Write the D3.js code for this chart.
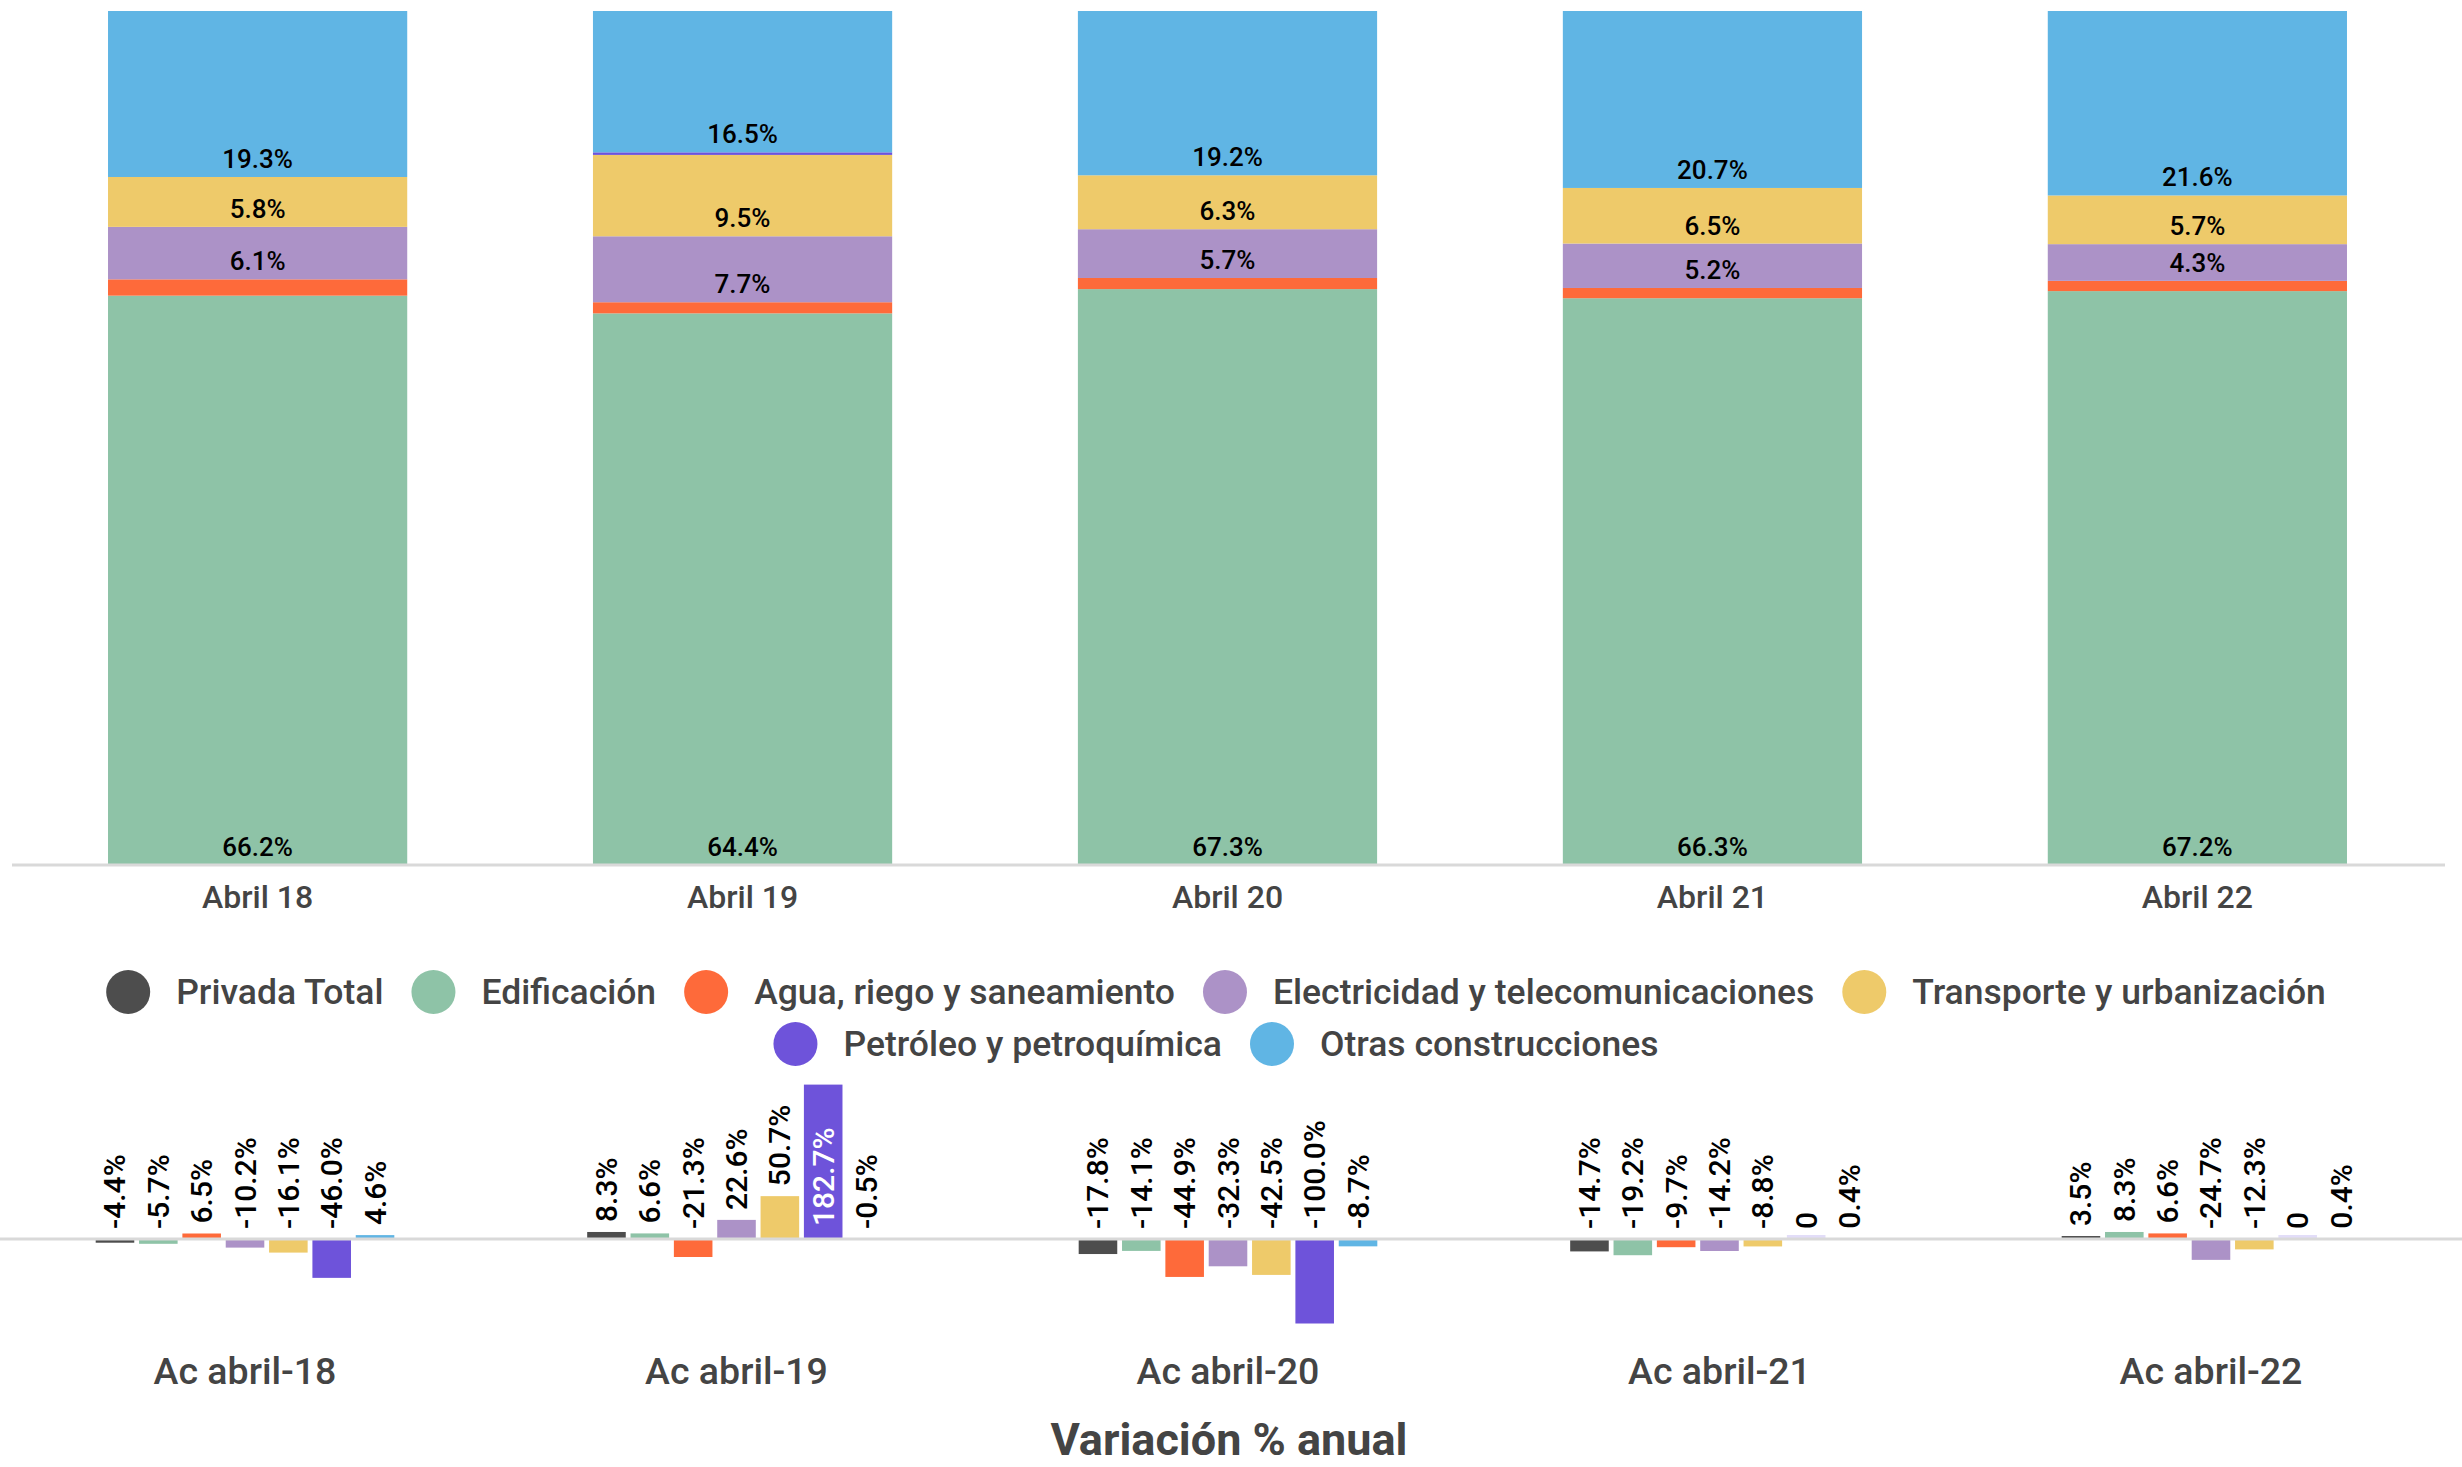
<!DOCTYPE html>
<html>
<head>
<meta charset="utf-8">
<script src="https://cdn.jsdelivr.net/npm/d3@7"></script>
<style>
html,body{margin:0;padding:0;background:#fff;}
svg{display:block;font-family:Roboto,"Noto Sans",sans-serif;}
</style>
</head>
<body>
<svg id="chart" width="2462" height="1467"></svg>
<script>
// ---------- DATA ----------
const categories = ["Abril 18", "Abril 19", "Abril 20", "Abril 21", "Abril 22"];
const seriesNames = ["Privada Total", "Edificación", "Agua, riego y saneamiento", "Electricidad y telecomunicaciones", "Transporte y urbanización", "Petróleo y petroquímica", "Otras construcciones"];
const seriesColors = ["#4d4d4d", "#8ec3a7", "#fe6a3a", "#ac92c7", "#eeca6a", "#6e53da", "#60b5e4"];

// shares (%) for the 100% stacked chart
const shareEdificacion   = [66.2, 64.4, 67.3, 66.3, 67.2];
const shareAgua          = [1.9, 1.3, 1.3, 1.2, 1.2];
const shareElectricidad  = [6.1, 7.7, 5.7, 5.2, 4.3];
const shareTransporte    = [5.8, 9.5, 6.3, 6.5, 5.7];
const sharePetroleo      = [0, 0.3, 0, 0, 0];
const shareOtras         = [19.3, 16.5, 19.2, 20.7, 21.6];

// annual variation (%)
const periods = ["Ac abril-18", "Ac abril-19", "Ac abril-20", "Ac abril-21", "Ac abril-22"];
const varPrivada       = [-4.4, 8.3, -17.8, -14.7, 3.5];
const varEdificacion   = [-5.7, 6.6, -14.1, -19.2, 8.3];
const varAgua          = [6.5, -21.3, -44.9, -9.7, 6.6];
const varElectricidad  = [-10.2, 22.6, -32.3, -14.2, -24.7];
const varTransporte    = [-16.1, 50.7, -42.5, -8.8, -12.3];
const varPetroleo      = [-46.0, 182.7, -100.0, 0, 0];
const varOtras         = [4.6, -0.5, -8.7, 0.4, 0.4];

const bottomTitle = "Variación % anual";

// ---------- SETUP ----------
const svg = d3.select("#chart");
const color = d3.scaleOrdinal(seriesNames, seriesColors);
const fmt = v => v === 0 ? "0" : v.toFixed(1) + "%";

// ---------- TOP: 100% stacked ----------
const stackKeys = seriesNames.slice(1);
const shareArrays = [shareEdificacion, shareAgua, shareElectricidad, shareTransporte, sharePetroleo, shareOtras];
const topRows = categories.map((c, i) => {
  const r = {cat: c};
  stackKeys.forEach((k, j) => r[k] = shareArrays[j][i]);
  return r;
});
const stacked = d3.stack().keys(stackKeys).offset(d3.stackOffsetExpand)(topRows);

const xTop = d3.scaleBand().domain(categories).range([12, 2443]).paddingInner(0.383).paddingOuter(0.198);
const yTop = d3.scaleLinear().domain([0, 1]).range([865, 11]);

const gTop = svg.append("g");
gTop.selectAll("g.layer").data(stacked).join("g")
  .attr("class", "layer")
  .attr("fill", d => color(d.key))
  .selectAll("rect").data(d => d).join("rect")
  .attr("x", d => xTop(d.data.cat))
  .attr("width", xTop.bandwidth())
  .attr("y", d => yTop(d[1]))
  .attr("height", d => Math.max(0, yTop(d[0]) - yTop(d[1])));

// labels at inside base
stacked.forEach(layer => {
  layer.forEach(d => {
    const v = d.data[layer.key];
    if (v < 3) return;
    gTop.append("text")
      .attr("x", xTop(d.data.cat) + xTop.bandwidth() / 2)
      .attr("y", yTop(d[0]) - 9)
      .attr("text-anchor", "middle")
      .attr("font-size", 26)
      .attr("font-weight", 500)
      .attr("fill", "#000")
      .text(fmt(v));
  });
});

// baseline
gTop.append("line")
  .attr("x1", 12).attr("x2", 2445)
  .attr("y1", yTop(0)).attr("y2", yTop(0))
  .attr("stroke", "#d9d9d9").attr("stroke-width", 3);

// x axis labels
const axTop = svg.append("g").attr("transform", `translate(0,${yTop(0)})`)
  .call(d3.axisBottom(xTop).tickSize(0).tickPadding(20));
axTop.select(".domain").remove();
axTop.selectAll("text").attr("font-size", 32).attr("font-weight", 500)
  .attr("fill", "#444").attr("font-family", "Roboto");

// ---------- LEGEND ----------
const legend = svg.append("g");
const legItems = seriesNames.map(n => {
  const g = legend.append("g");
  g.append("circle").attr("r", 22).attr("fill", color(n));
  const t = g.append("text").attr("x", 48).attr("dy", "0.35em")
    .attr("font-size", 35.5).attr("font-weight", 500).attr("fill", "#444").text(n);
  return {g, w: 48 + t.node().getComputedTextLength()};
});
const legendMaxW = 2320, legendGap = 50, legendCx = 1216;
const rows = [[]];
let rw = 0;
legItems.forEach(it => {
  const add = (rows[rows.length - 1].length ? legendGap : 0) + it.w;
  if (rw + add > legendMaxW && rows[rows.length - 1].length) { rows.push([]); rw = 0; }
  rw += (rows[rows.length - 1].length ? legendGap : 0) + it.w;
  rows[rows.length - 1].push(it);
});
rows.forEach((row, ri) => {
  const total = d3.sum(row, r => r.w) + legendGap * (row.length - 1) + 22;
  let x = legendCx - total / 2 + 22;
  row.forEach(it => {
    it.g.attr("transform", `translate(${x},${992 + ri * 52})`);
    x += it.w + legendGap;
  });
});

// ---------- BOTTOM: grouped variation bars ----------
const varArrays = [varPrivada, varEdificacion, varAgua, varElectricidad, varTransporte, varPetroleo, varOtras];
const botRows = periods.map((p, i) => ({period: p, values: seriesNames.map((s, j) => ({key: s, value: varArrays[j][i]}))}));

const x0 = d3.scaleBand().domain(periods).range([0, 2456]).paddingInner(0.373).paddingOuter(0.185);
const x1 = d3.scaleBand().domain(seriesNames).range([0, x0.bandwidth()]).padding(0.11);
const allVals = varArrays.flat();
const yB = d3.scaleLinear().domain(d3.extent(allVals)).range([1323.5, 1084.6]);
const y0 = yB(0);

const gBot = svg.append("g");
const groups = gBot.selectAll("g.grp").data(botRows).join("g")
  .attr("class", "grp")
  .attr("transform", d => `translate(${x0(d.period)},0)`);

groups.selectAll("rect").data(d => d.values).join("rect")
  .attr("x", d => x1(d.key))
  .attr("width", x1.bandwidth())
  .attr("y", d => d.value === 0 ? y0 - 4 : Math.min(yB(d.value), y0))
  .attr("height", d => d.value === 0 ? 4 : Math.abs(yB(d.value) - y0))
  .attr("fill", d => color(d.key))
  .attr("fill-opacity", d => d.value === 0 ? 0.2 : 1);

gBot.append("line")
  .attr("x1", 0).attr("x2", 2462)
  .attr("y1", y0).attr("y2", y0)
  .attr("stroke", "#d9d9d9").attr("stroke-width", 3);

groups.each(function(gd) {
  const g = d3.select(this);
  gd.values.forEach(d => {
    const cx = x1(d.key) + x1.bandwidth() / 2;
    const t = g.append("text")
      .attr("font-size", 30)
      .attr("font-weight", 500)
      .attr("dy", "0.35em")
      .attr("text-anchor", "start")
      .text(fmt(d.value));
    const len = t.node().getComputedTextLength();
    let yStart = Math.min(yB(d.value), y0) - 10;
    let fill = "#000";
    if (yStart - len < 1075) { yStart = y0 - 13; fill = "#fff"; }
    t.attr("fill", fill).attr("transform", `translate(${cx},${yStart}) rotate(-90)`);
  });
});

// period labels
const axBot = svg.append("g").attr("transform", `translate(0,1371)`);
periods.forEach(p => {
  axBot.append("text")
    .attr("x", x0(p) + x0.bandwidth() / 2)
    .attr("dy", "0.35em")
    .attr("text-anchor", "middle")
    .attr("font-size", 37.5)
    .attr("font-weight", 500)
    .attr("fill", "#444")
    .text(p);
});

svg.append("text")
  .attr("x", 1229).attr("y", 1455)
  .attr("text-anchor", "middle")
  .attr("font-size", 45).attr("font-weight", 700)
  .attr("fill", "#444")
  .text(bottomTitle);
</script>
</body>
</html>
